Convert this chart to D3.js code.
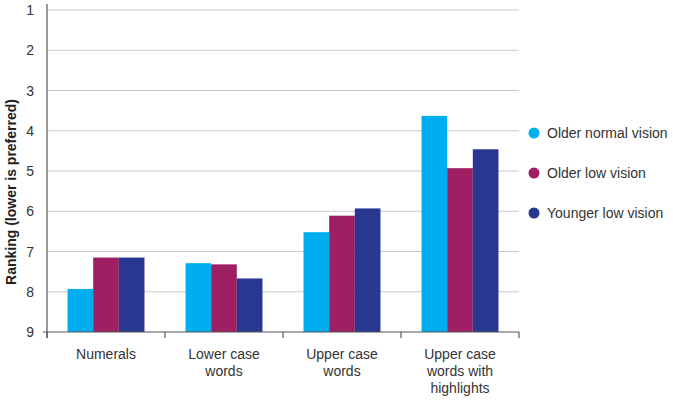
<!DOCTYPE html>
<html><head><meta charset="utf-8">
<script src="https://cdn.jsdelivr.net/npm/d3@7"></script>
<style>body{margin:0;background:#fff;} text{font-family:"Liberation Sans",Arial,sans-serif;}</style>
</head><body>
<svg id="c" width="673" height="401"></svg>
<script>
const categories = [["Numerals"], ["Lower case", "words"], ["Upper case", "words"], ["Upper case", "words with", "highlights"]];
const seriesNames = ["Older normal vision", "Older low vision", "Younger low vision"];
const seriesColors = ["#00AEEF", "#9E1F63", "#283891"];
const olderNormal = [7.93, 7.29, 6.52, 3.63];
const olderLow = [7.15, 7.32, 6.11, 4.93];
const youngerLow = [7.15, 7.67, 5.93, 4.46];
const yTicks = [1, 2, 3, 4, 5, 6, 7, 8, 9];
const series = [olderNormal, olderLow, youngerLow];

(function () {
const svg = d3.select("#c");
const pl = 47, pr = 519, pt = 10, pb = 332;
const x = d3.scaleBand().domain(d3.range(categories.length)).range([pl, pr]).paddingInner(0).paddingOuter(0);
const xs = d3.scaleBand().domain(d3.range(series.length)).range([0, x.bandwidth()]).paddingInner(0).paddingOuter(0.8);
const y = d3.scaleLinear().domain([1, 9]).range([pt, pb]);

// gridlines
svg.append("g").selectAll("line").data(yTicks.slice(0, -1)).join("line")
  .attr("x1", pl).attr("x2", pr).attr("y1", d => y(d)).attr("y2", d => y(d))
  .attr("stroke", "#c9c9c9").attr("stroke-width", 1.2);

// bars
series.forEach((vals, si) => {
  svg.append("g").selectAll("rect").data(vals).join("rect")
    .attr("x", (d, i) => x(i) + xs(si))
    .attr("width", xs.bandwidth())
    .attr("y", d => y(d))
    .attr("height", d => y(9) - y(d))
    .attr("fill", seriesColors[si]);
});

// y axis labels
svg.append("g").selectAll("text").data(yTicks).join("text")
  .attr("x", 34).attr("y", d => y(d)).attr("dy", "0.36em")
  .attr("text-anchor", "end").attr("font-size", 14).attr("fill", "#333")
  .text(d => d);

// axes lines
svg.append("line").attr("x1", pl).attr("x2", pl).attr("y1", 4).attr("y2", pb + 6)
  .attr("stroke", "#555").attr("stroke-width", 1.2);
svg.append("line").attr("x1", 43).attr("x2", pr).attr("y1", pb).attr("y2", pb)
  .attr("stroke", "#555").attr("stroke-width", 1.2);
svg.append("g").selectAll("line").data(d3.range(categories.length + 1)).join("line")
  .attr("x1", d => pl + d * x.bandwidth()).attr("x2", d => pl + d * x.bandwidth())
  .attr("y1", pb).attr("y2", pb + 6).attr("stroke", "#555").attr("stroke-width", 1.2);

// x labels
categories.forEach((lines, i) => {
  const t = svg.append("text").attr("text-anchor", "middle").attr("font-size", 14).attr("fill", "#333");
  lines.forEach((l, j) => {
    t.append("tspan").attr("x", x(i) + x.bandwidth() / 2).attr("y", 359 + j * 17).text(l);
  });
});

// y title
svg.append("text").attr("transform", "translate(16,192) rotate(-90)")
  .attr("text-anchor", "middle").attr("font-size", 14).attr("font-weight", "bold").attr("fill", "#222")
  .text("Ranking (lower is preferred)");

// legend
const lg = svg.append("g").selectAll("g").data(seriesNames).join("g")
  .attr("transform", (d, i) => `translate(534,${133 + i * 40})`);
lg.append("circle").attr("r", 5.5).attr("fill", (d, i) => seriesColors[i]);
lg.append("text").attr("x", 13).attr("dy", "0.36em").attr("font-size", 14).attr("fill", "#333").text(d => d);
})();
</script>
</body></html>
